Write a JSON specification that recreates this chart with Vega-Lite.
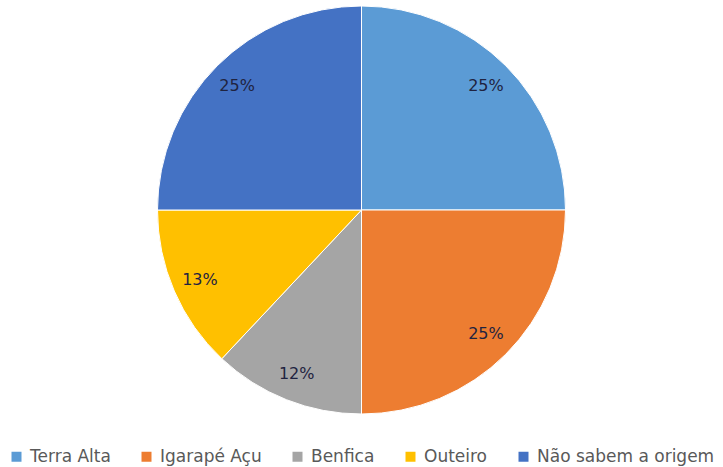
{
  "$schema": "https://vega.github.io/schema/vega-lite/v6.json",
  "width": 723,
  "height": 420,
  "padding": {"top": 0, "left": 0, "right": 0, "bottom": 47},
  "autosize": {"type": "none"},
  "background": "white",
  "data": {
    "values": [
      {"origem": "Terra Alta", "pct": 25, "ord": 1, "label": "25%"},
      {"origem": "Igarapé Açu", "pct": 25, "ord": 2, "label": "25%"},
      {"origem": "Benfica", "pct": 12, "ord": 3, "label": "12%"},
      {"origem": "Outeiro", "pct": 13, "ord": 4, "label": "13%"},
      {"origem": "Não sabem a origem", "pct": 25, "ord": 5, "label": "25%"}
    ]
  },
  "encoding": {
    "theta": {"field": "pct", "type": "quantitative", "stack": true},
    "order": {"field": "ord", "type": "quantitative"},
    "color": {
      "field": "origem",
      "type": "nominal",
      "scale": {
        "domain": ["Terra Alta", "Igarapé Açu", "Benfica", "Outeiro", "Não sabem a origem"],
        "range": ["#5B9BD5", "#ED7D31", "#A5A5A5", "#FFC000", "#4472C4"]
      },
      "legend": {
        "title": null,
        "orient": "none",
        "direction": "horizontal",
        "legendX": 8,
        "legendY": 448,
        "symbolType": "square",
        "symbolSize": 100,
        "symbolStrokeWidth": 0,
        "labelFont": "DejaVu Sans",
        "labelFontSize": 17,
        "labelColor": "#595959",
        "labelOffset": 5,
        "columnPadding": 27,
        "labelLimit": 300
      }
    }
  },
  "layer": [
    {
      "mark": {"type": "arc", "outerRadius": 204, "stroke": "white", "strokeWidth": 1}
    },
    {
      "mark": {"type": "text", "radius": 176, "font": "DejaVu Sans", "fontSize": 16, "fill": "#1f2340"},
      "encoding": {"text": {"field": "label"}}
    }
  ]
}
